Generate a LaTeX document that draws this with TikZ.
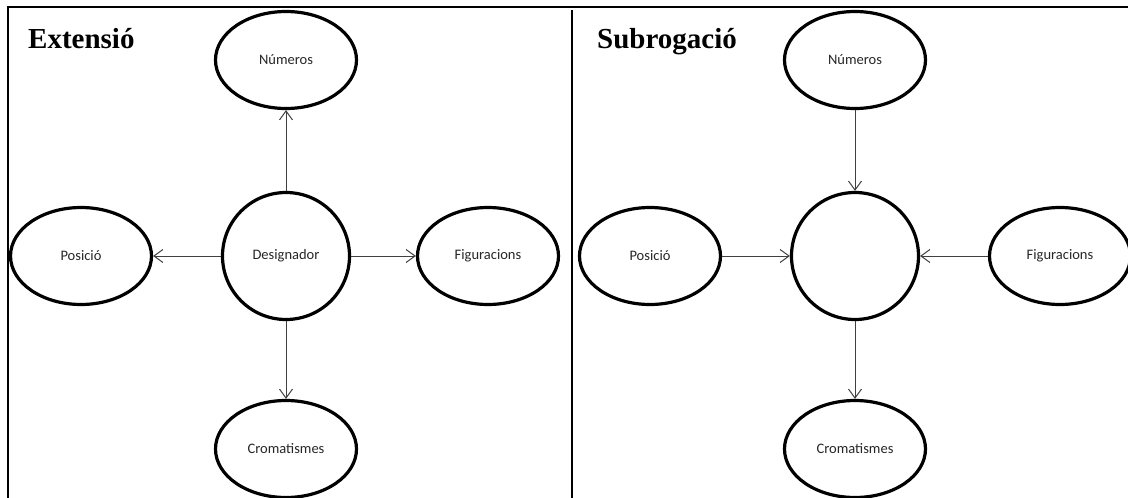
\documentclass[tikz,border=0pt]{standalone}
\usepackage{fontspec}
\setmainfont{Liberation Serif}
\newfontfamily\labfont{Carlito}
\usetikzlibrary{shapes.geometric,arrows.meta}
\tikzset{
  oval/.style={draw=black, line width=3.2pt, ellipse, minimum width=141pt, minimum height=97pt, inner sep=0pt,
    font=\labfont\fontsize{14.5}{16}\selectfont, text=black!85},
  hub/.style={draw=black, line width=3.2pt, circle, minimum size=127pt, inner sep=0pt,
    font=\labfont\fontsize{14.5}{16}\selectfont, text=black!85},
  arr/.style={draw=black!75, line width=1pt, -{Straight Barb[length=9pt,width=13pt,line width=1pt]}},
  frame/.style={draw=black, line width=2.2pt},
  title/.style={anchor=base west, inner sep=0pt, font=\bfseries\fontsize{29}{32}\selectfont}
}
\begin{document}
\begin{tikzpicture}[x=1pt,y=-1pt]
\useasboundingbox (0,0) rectangle (1128,498);
\clip (0,0) rectangle (1128,498);
% frame
\draw[frame] (8,510) -- (8,7) -- (1140,7);
\draw[black, line width=1.8pt] (572,10) -- (572,510);
% titles
\node[title] (t1) at (28,48) {Extensió};
\node[title] (t2) at (597,48) {Subrogació};
% left panel
\node[hub]  (des)  at (286,256) {Designador};
\node[oval] (numL) at (286,60)  {Números};
\node[oval] (posL) at (81,256)  {Posició};
\node[oval] (figL) at (488,256) {Figuracions};
\node[oval] (croL) at (286,449) {Cromatismes};
\draw[arr] (des) -- (numL);
\draw[arr] (des) -- (posL);
\draw[arr] (des) -- (figL);
\draw[arr] (des) -- (croL);
% right panel
\node[hub]  (cen)  at (855,256) {};
\node[oval] (numR) at (855,60)  {Números};
\node[oval] (posR) at (650,256) {Posició};
\node[oval] (figR) at (1060,256) {Figuracions};
\node[oval] (croR) at (855,449) {Cromatismes};
\draw[arr] (numR) -- (cen);
\draw[arr] (posR) -- (cen);
\draw[arr] (figR) -- (cen);
\draw[arr] (cen) -- (croR);
\end{tikzpicture}
\end{document}
